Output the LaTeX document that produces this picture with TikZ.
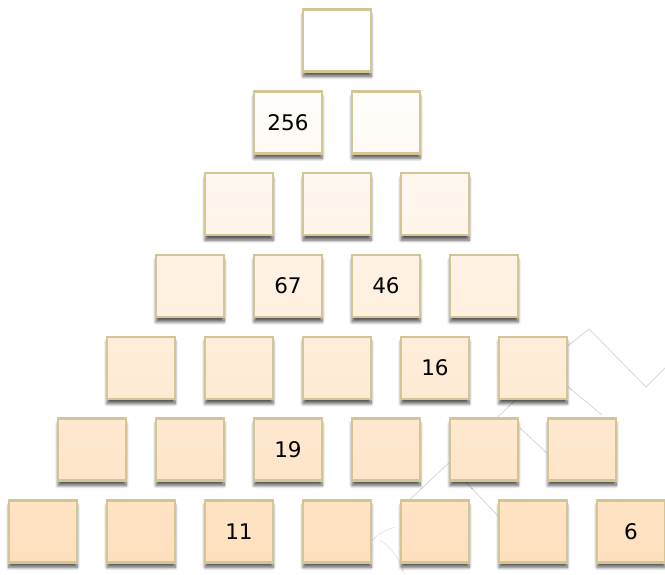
\documentclass[tikz,border=0pt]{standalone}
\usepackage{fontspec}
\setmainfont{DejaVu Sans}
\usetikzlibrary{shadows.blur}
\definecolor{peach}{HTML}{FEE0BE}
\definecolor{rim}{HTML}{D4C594}
\definecolor{trace}{HTML}{D6D6D6}

\begin{document}
\begin{tikzpicture}[x=1pt,y=-1pt,
  brick/.style={draw=rim,line width=2.4pt,minimum width=68pt,minimum height=62pt,
    blur shadow={shadow xshift=0pt,shadow yshift=-5pt,shadow blur radius=3pt,shadow blur steps=8,shadow opacity=65}},
  num/.style={font=\fontsize{21.5}{25}\selectfont,text=black}]
  \useasboundingbox (0,0) rectangle (665,574);

  % faint lines behind the pyramid
  \draw[trace,line width=0.8pt] (560,352) -- (589,329) -- (646,387) -- (665,368);
  \draw[trace,line width=0.8pt] (566,385) -- (602,415);
  \draw[trace,line width=0.8pt] (522,394) -- (452,460) -- (405,504);
  \draw[trace,line width=0.8pt] (520,428) -- (549,455);
  \draw[trace,line width=0.8pt] (462,478) -- (500,518);
  \draw[trace!70,line width=0.6pt] (380,540) .. controls (392,548) and (400,560) .. (404,574);
  \draw[trace!70,line width=0.6pt] (395,527) .. controls (380,532) and (372,538) .. (368,548);

  % the pyramid, row by row
  \foreach \r in {1,...,7} {
    \pgfmathsetmacro{\tint}{100*(\r-1)/6}
    \pgfmathsetmacro{\tintt}{max(0,100*(\r-1.6)/6)}
    \foreach \c in {1,...,\r} {
      \node[brick,top color=peach!\tintt!white,bottom color=peach!\tint!white]
        (b-\r-\c) at ({337+(\c-(\r+1)/2)*98},{40.5+(\r-1)*81.8}) {};
    }
  }

  % given numbers
  \node[num] (t256) at (b-2-1) {256};
  \node[num] (t67) at (b-4-2) {67};
  \node[num] (t46) at (b-4-3) {46};
  \node[num] (t16) at (b-5-4) {16};
  \node[num] (t19) at (b-6-3) {19};
  \node[num] (t11) at (b-7-3) {11};
  \node[num] (t6) at (b-7-7) {6};
\end{tikzpicture}
\end{document}
